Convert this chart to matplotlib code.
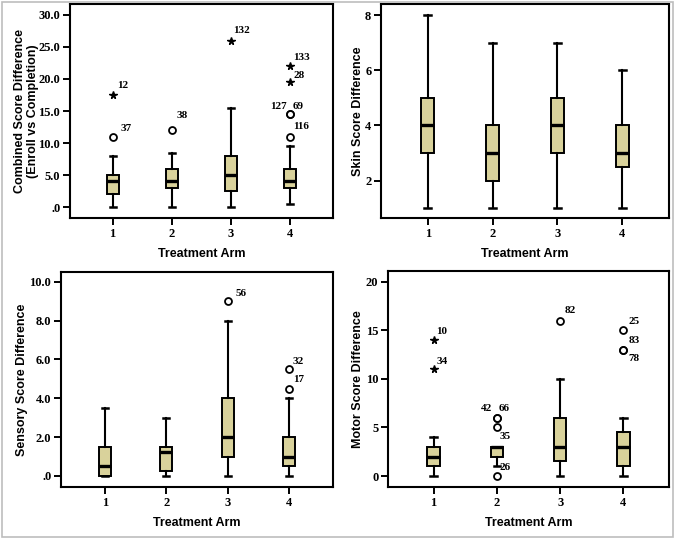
import matplotlib
matplotlib.use("Agg")
import matplotlib.pyplot as plt
from matplotlib.patches import Rectangle

arms = [1, 2, 3, 4]

# Combined score: whisker low, Q1, median, Q3, whisker high per arm
combined_lo = [0, 0, 0, 0.5]
combined_q1 = [2, 3, 2.5, 3]
combined_med = [4, 4, 5, 4]
combined_q3 = [5, 6, 8, 6]
combined_hi = [8, 8.5, 15.5, 9.5]
combined_out_arm = [1, 1, 2, 3, 4, 4, 4, 4, 4]
combined_out_val = [17.5, 11, 12, 26, 22, 19.5, 14.5, 14.5, 11]
combined_out_kind = ['*', 'o', 'o', '*', '*', '*', 'o', 'o', 'o']
combined_out_lab = ['12', '37', '38', '132', '133', '28', '127', '69', '116']
combined_ticks = [0, 5, 10, 15, 20, 25, 30]
combined_ticklabels = ['.0', '5.0', '10.0', '15.0', '20.0', '25.0', '30.0']

# Skin score
skin_lo = [1, 1, 1, 1]
skin_q1 = [3, 2, 3, 2.5]
skin_med = [4, 3, 4, 3]
skin_q3 = [5, 4, 5, 4]
skin_hi = [8, 7, 7, 6]
skin_ticks = [2, 4, 6, 8]
skin_ticklabels = ['2', '4', '6', '8']

# Sensory score
sensory_lo = [0, 0, 0, 0]
sensory_q1 = [0, 0.25, 1, 0.5]
sensory_med = [0.5, 1.25, 2, 1]
sensory_q3 = [1.5, 1.5, 4, 2]
sensory_hi = [3.5, 3, 8, 4]
sensory_out_arm = [3, 4, 4]
sensory_out_val = [9, 5.5, 4.5]
sensory_out_kind = ['o', 'o', 'o']
sensory_out_lab = ['56', '32', '17']
sensory_ticks = [0, 2, 4, 6, 8, 10]
sensory_ticklabels = ['.0', '2.0', '4.0', '6.0', '8.0', '10.0']

# Motor score
motor_lo = [0, 1, 0, 0]
motor_q1 = [1, 2, 1.5, 1]
motor_med = [2, 3, 3, 3]
motor_q3 = [3, 3, 6, 4.5]
motor_hi = [4, 3, 10, 6]
motor_out_arm = [1, 1, 2, 2, 2, 2, 3, 4, 4, 4]
motor_out_val = [14, 11, 6, 6, 5, 0, 16, 15, 13, 13]
motor_out_kind = ['*', '*', 'o', 'o', 'o', 'o', 'o', 'o', 'o', 'o']
motor_out_lab = ['10', '34', '42', '66', '35', '26', '82', '25', '83', '78']
motor_ticks = [0, 5, 10, 15, 20]
motor_ticklabels = ['0', '5', '10', '15', '20']

# label offsets in pixels (dx, dy, ha), kept apart from the values
combined_offsets = [(4, 9, 'left'), (8, 8, 'left'), (5, 15, 'left'), (2, 10, 'left'),
                    (3, 9, 'left'), (3, 7, 'left'), (-4, 8, 'right'), (2, 8, 'left'),
                    (3, 10, 'left')]
sensory_offsets = [(8, 8, 'left'), (4, 8, 'left'), (4, 9, 'left')]
motor_offsets = [(3, 8, 'left'), (3, 8, 'left'), (-5, 9, 'right'), (2, 9, 'left'),
                 (3, -9, 'left'), (3, 9, 'left'), (4, 10, 'left'), (5, 9, 'left'),
                 (5, 9, 'left'), (5, -9, 'left')]

BOX_COLOR = '#d9d29b'
W, H = 676, 540

fig = plt.figure(figsize=(6.76, 5.4), dpi=100)


def px_axes(x0, y0, x1, y1):
    # axes rect from pixel box (top-left origin)
    return fig.add_axes([x0 / W, (H - y1) / H, (x1 - x0) / W, (y1 - y0) / H])


def draw_panel(ax, lo, q1, med, q3, hi, ylim, ticks, ticklabels, ylabel,
               out_arm=None, out_val=None, out_kind=None, out_lab=None, offsets=None,
               ylabel_pad=1):
    stats = []
    for i in range(len(arms)):
        stats.append(dict(med=med[i], q1=q1[i], q3=q3[i], whislo=lo[i], whishi=hi[i], fliers=[]))
    ax.bxp(stats, positions=arms, widths=0.2, capwidths=0.1, patch_artist=True,
           showfliers=False,
           boxprops=dict(facecolor=BOX_COLOR, edgecolor='black', linewidth=1.4),
           whiskerprops=dict(color='black', linewidth=1.5),
           capprops=dict(color='black', linewidth=1.8),
           medianprops=dict(color='black', linewidth=2.4))

    if out_arm:
        for a, v, k, lab, (dx, dy, ha) in zip(out_arm, out_val, out_kind, out_lab, offsets):
            if k == '*':
                ax.plot(a, v, marker='*', ms=5.5, color='black', zorder=5)
            else:
                ax.plot(a, v, marker='o', ms=5, mfc='white', mec='black', mew=1.3, zorder=5)
            ax.annotate(lab, (a, v), xytext=(dx, dy), textcoords='offset pixels',
                        ha=ha, va='center', fontsize=8, family='Liberation Serif',
                        fontweight='bold')

    ax.set_xlim(0.28, 4.72)
    ax.set_ylim(*ylim)
    ax.set_xticks(arms)
    ax.set_xticklabels([str(a) for a in arms], family='Liberation Serif',
                       fontweight='bold', fontsize=9)
    ax.set_yticks(ticks)
    ax.set_yticklabels(ticklabels, family='Liberation Serif', fontweight='bold', fontsize=9)
    ax.tick_params(direction='out', length=5, width=1.4, pad=2)
    for s in ax.spines.values():
        s.set_linewidth(1.5)
    ax.set_xlabel('Treatment Arm', family='Liberation Sans', fontweight='bold',
                  fontsize=9, labelpad=6)
    ax.set_ylabel(ylabel, family='Liberation Sans', fontweight='bold', fontsize=9,
                  linespacing=1.1, labelpad=ylabel_pad)


ax1 = px_axes(70, 4, 333, 218)
draw_panel(ax1, combined_lo, combined_q1, combined_med, combined_q3, combined_hi,
           (-1.7, 31.7), combined_ticks, combined_ticklabels,
           'Combined Score Difference\n(Enroll vs Completion)',
           combined_out_arm, combined_out_val, combined_out_kind, combined_out_lab,
           combined_offsets, ylabel_pad=0)

ax2 = px_axes(381, 4, 669, 218)
draw_panel(ax2, skin_lo, skin_q1, skin_med, skin_q3, skin_hi,
           (0.65, 8.4), skin_ticks, skin_ticklabels, 'Skin Score Difference',
           ylabel_pad=1)

ax3 = px_axes(61, 272, 333, 487)
draw_panel(ax3, sensory_lo, sensory_q1, sensory_med, sensory_q3, sensory_hi,
           (-0.57, 10.5), sensory_ticks, sensory_ticklabels, 'Sensory Score Difference',
           sensory_out_arm, sensory_out_val, sensory_out_kind, sensory_out_lab,
           sensory_offsets, ylabel_pad=1)

ax4 = px_axes(388, 271, 669, 487)
draw_panel(ax4, motor_lo, motor_q1, motor_med, motor_q3, motor_hi,
           (-1.13, 21.1), motor_ticks, motor_ticklabels, 'Motor Score Difference',
           motor_out_arm, motor_out_val, motor_out_kind, motor_out_lab,
           motor_offsets, ylabel_pad=1)

# thin grey frame around the whole figure
fig.patches.append(Rectangle((2 / W, 3 / H), (W - 5) / W, (H - 5) / H,
                             transform=fig.transFigure, fill=False,
                             edgecolor='#bdbdbd', linewidth=1.2))

fig.savefig('out.png', dpi=100)
